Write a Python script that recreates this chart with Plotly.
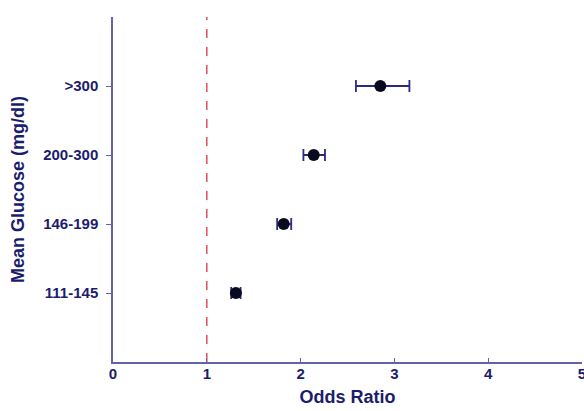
import plotly.graph_objects as go

categories = ["111-145", "146-199", "200-300", ">300"]
cat_pos = [1, 2, 3, 4]
odds_ratio = [1.31, 1.82, 2.14, 2.85]
ci_low = [1.26, 1.75, 2.03, 2.59]
ci_high = [1.36, 1.90, 2.26, 3.16]
x_ticks = [0, 1, 2, 3, 4, 5]
ref_line = 1

text_color = "#1c1c6e"
axis_color = "#6262aa"

err_plus = [h - o for h, o in zip(ci_high, odds_ratio)]
err_minus = [o - l for l, o in zip(ci_low, odds_ratio)]

fig = go.Figure()
fig.add_trace(go.Scatter(
    x=[ref_line, ref_line], y=[0, 5], mode="lines",
    line=dict(color="#e0505a", width=1.5, dash="dash"),
    hoverinfo="skip", showlegend=False,
))
fig.add_trace(go.Scatter(
    x=odds_ratio, y=cat_pos, mode="markers",
    marker=dict(color="#0a0a1e", size=12),
    error_x=dict(type="data", symmetric=False, array=err_plus, arrayminus=err_minus,
                 color="#2a2a86", thickness=1.8, width=6),
    showlegend=False,
))

font_family = "Liberation Sans, Arial, sans-serif"
fig.update_layout(
    width=584, height=411,
    margin=dict(l=113, r=2, t=17, b=49, autoexpand=False),
    paper_bgcolor="white", plot_bgcolor="white",
    font=dict(family=font_family, color=text_color),
    xaxis=dict(
        range=[0, 5], tickvals=x_ticks, ticktext=[str(v) for v in x_ticks],
        automargin=False, ticklabeloverflow="allow",
        showgrid=False, zeroline=False, showline=True, linecolor=axis_color, linewidth=1.5,
        ticks="inside", ticklen=4, tickcolor=axis_color, ticklabelstandoff=-3,
        tickfont=dict(size=15, family=font_family, color=text_color, weight="bold"),
        title=dict(text="<b>Odds Ratio</b>", font=dict(size=18, color=text_color), standoff=10),
    ),
    yaxis=dict(
        range=[0, 5], tickvals=cat_pos, ticktext=categories,
        automargin=False,
        showgrid=False, zeroline=False, showline=True, linecolor=axis_color, linewidth=1.5,
        ticks="outside", ticklen=5, tickcolor=axis_color, ticklabelstandoff=5,
        tickfont=dict(size=15, family=font_family, color=text_color, weight="bold"),
        title=dict(text="<b>Mean Glucose (mg/dl)</b>", font=dict(size=18, color=text_color), standoff=14),
    ),
)
fig.write_html("out.html", config={"displayModeBar": False},
               post_script="document.body.style.margin='0';")
